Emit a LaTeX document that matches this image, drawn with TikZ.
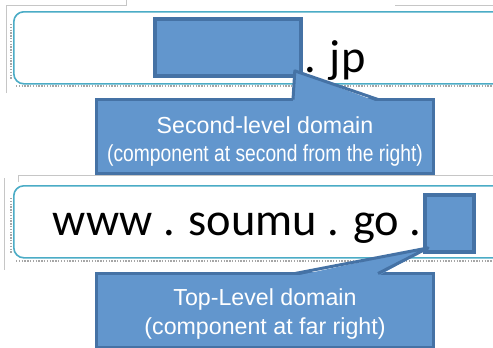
\documentclass[tikz,border=0pt]{standalone}
\usepackage{fontspec}
\setmainfont{Liberation Sans}
\newfontfamily\urlfont{Carlito}
\usetikzlibrary{calc}
\definecolor{boxblue}{HTML}{6296CD}
\definecolor{boxedge}{HTML}{4572A5}
\definecolor{frameblue}{HTML}{4BACC6}

\begin{document}
\begin{tikzpicture}[x=0.25mm, y=-0.25mm]

% definitions
\tikzstyle{urlframe} = [rectangle, rounded corners=2.5mm, minimum width=125mm, minimum height=18mm, draw=frameblue, line width=0.4mm, fill=white, anchor=north west]

\tikzstyle{blank} = [rectangle, draw=boxedge, fill=boxblue, line width=0.9mm]

\tikzstyle{callout} = [rectangle, draw=boxedge, fill=boxblue, line width=0.75mm, minimum width=84.25mm, minimum height=18.5mm]

\tikzstyle{calltext} = [text=white, align=center, font=\fontsize{16.5}{20}\selectfont]

\tikzstyle{urltext} = [inner sep=0, anchor=base west, font=\urlfont\fontsize{33}{40}\selectfont]

\tikzstyle{pointer} = [draw=boxedge, line width=0.75mm, line join=round]

\tikzstyle{shadow} = [gray!70, densely dotted, line width=0.35mm]

\tikzstyle{guide} = [gray!45, line width=0.15mm]

\clip (0,0) rectangle (493,347);

% slide guides
\draw [guide] (6,93) -- (6,5) -- (126,5) -- (126,0);
\draw [guide] (395,5) -- (493,5);
\draw [guide] (4,178) -- (4,270);
\draw [guide] (18,182) -- (18,175) -- (493,175);

% the graph
\draw [shadow] (16,86) -- (493,86);
\draw [shadow] (11,24) -- (11,79);
\node (url1) [urlframe] at (13,11) {};

\draw [shadow] (16,261) -- (493,261);
\draw [shadow] (11,198) -- (11,253);
\node (url2) [urlframe] at (13,185) {};

\node (sld) [blank, minimum width=36.5mm, minimum height=14.3mm] at (228,47.5) {};
\node (jp) [urltext] at (304,72) {. jp};

\node (host) [urltext] at (52.5,235) {www . soumu . go .};
\node (tld) [blank, minimum width=12.3mm, minimum height=14.3mm] at (449.5,223.5) {};

\node (sldcall) [callout] at (265,136.5) {};
\coordinate (sldtip) at ($(sld.south east)+(-8,-7)$);
\fill [boxblue] ($(sldcall.north)+(28,4)$) -- (sldtip) -- ($(sldcall.north)+(113,4)$) -- cycle;
\draw [pointer] ($(sldcall.north)+(28,1.5)$) -- (sldtip) -- ($(sldcall.north)+(113,1.5)$);
\node (sldlabel) [calltext] at (265,141.5) {Second-level domain\\\scalebox{0.83}[1]{(component at second from the right)}};

\node (tldcall) [callout] at (265,310.5) {};
\coordinate (tldtip) at ($(tld.south west)+(5,-6)$);
\fill [boxblue] ($(tldcall.north)+(30,4)$) -- (tldtip) -- ($(tldcall.north)+(113,4)$) -- cycle;
\draw [pointer] ($(tldcall.north)+(30,1.5)$) -- (tldtip) -- ($(tldcall.north)+(113,1.5)$);
\node (tldlabel) [calltext] at (265,314) {Top-Level domain\\(component at far right)};

\end{tikzpicture}
\end{document}
